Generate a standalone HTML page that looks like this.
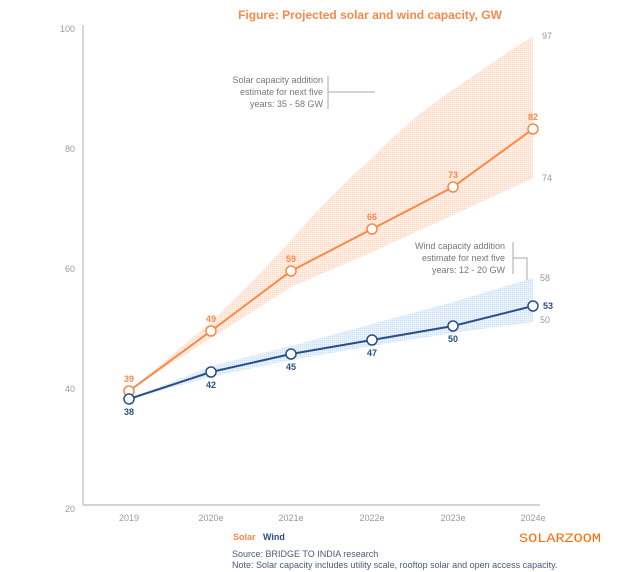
<!DOCTYPE html>
<html><head><meta charset="utf-8"><style>
html,body{margin:0;padding:0;background:#fff;}
svg{display:block;font-family:"Liberation Sans",sans-serif;}
</style></head><body>
<svg width="620" height="572" viewBox="0 0 620 572" xmlns="http://www.w3.org/2000/svg">
<defs>
<pattern id="po" width="2" height="2" patternUnits="userSpaceOnUse"><rect width="2" height="2" fill="#feeee4"/><rect width="1" height="1" fill="#fbd6bf"/></pattern>
<pattern id="pb" width="2" height="2" patternUnits="userSpaceOnUse"><rect width="2" height="2" fill="#e9f2fb"/><rect width="1" height="1" fill="#c8def2"/></pattern>
</defs>
<text x="370" y="19" font-size="12" font-weight="bold" fill="#f58a4b" text-anchor="middle">Figure: Projected solar and wind capacity, GW</text>
<g font-size="9" fill="#9a9a9a" text-anchor="end">
<text x="75" y="32">100</text><text x="75" y="152">80</text><text x="75" y="272">60</text><text x="75" y="392">40</text><text x="75" y="512">20</text>
</g>
<line x1="83" y1="25" x2="83" y2="505" stroke="#bbb" stroke-width="1.2"/>
<line x1="83" y1="505" x2="540" y2="505" stroke="#bbb" stroke-width="1.2"/>
<g font-size="9" fill="#9a9a9a" text-anchor="middle">
<text x="129" y="521">2019</text><text x="211" y="521">2020e</text><text x="291" y="521">2021e</text><text x="372" y="521">2022e</text><text x="453" y="521">2023e</text><text x="533" y="521">2024e</text>
</g>
<path d="M129,391 L211,322 Q260,275 291,240 Q335,190 372,158 Q410,118 453,90 Q495,60 533,36 L533,178 L453,215 L372,252 L291,287 L211,338 Z" fill="url(#po)"/>
<path d="M129,399 L211,366 L291,346 L372,324 L453,302 L533,278 L533,322 L453,333 L372,346 L291,360 L211,377 Z" fill="url(#pb)"/>
<polyline points="129,391 211,331 291,271 372,229 453,187 533,129" fill="none" stroke="#f58a4b" stroke-width="2"/>
<polyline points="129,399 211,372 291,354 372,340 453,326 533,306" fill="none" stroke="#2a4f84" stroke-width="2"/>
<g fill="#fff" stroke="#f58a4b" stroke-width="1.5">
<circle cx="129" cy="391" r="5"/><circle cx="211" cy="331" r="5"/><circle cx="291" cy="271" r="5"/><circle cx="372" cy="229" r="5"/><circle cx="453" cy="187" r="5"/><circle cx="533" cy="129" r="5"/>
</g>
<g fill="#fff" stroke="#2a4f84" stroke-width="1.5">
<circle cx="129" cy="399" r="5"/><circle cx="211" cy="372" r="5"/><circle cx="291" cy="354" r="5"/><circle cx="372" cy="340" r="5"/><circle cx="453" cy="326" r="5"/><circle cx="533" cy="306" r="5"/>
</g>
<g font-size="9" font-weight="bold" fill="#f58a4b" text-anchor="middle">
<text x="129" y="382">39</text><text x="211" y="322">49</text><text x="291" y="262">59</text><text x="372" y="220">66</text><text x="453" y="178">73</text><text x="533" y="120">82</text>
</g>
<g font-size="9" font-weight="bold" fill="#2a4f84" text-anchor="middle">
<text x="129" y="415">38</text><text x="211" y="388">42</text><text x="291" y="370">45</text><text x="372" y="356">47</text><text x="453" y="342">50</text><text x="548" y="309">53</text>
</g>
<g font-size="9" fill="#9a9a9a">
<text x="542" y="39">97</text><text x="542" y="181">74</text><text x="540" y="281">58</text><text x="540" y="323">50</text>
</g>
<g font-size="9" fill="#777" text-anchor="end">
<text x="323" y="83">Solar capacity addition</text><text x="323" y="95">estimate for next five</text><text x="323" y="107">years: 35 - 58 GW</text>
<text x="505" y="249">Wind capacity addition</text><text x="505" y="261">estimate for next five</text><text x="505" y="273">years: 12 - 20 GW</text>
</g>
<g stroke="#aaa" stroke-width="1" fill="none">
<line x1="328" y1="76" x2="328" y2="109"/><line x1="328" y1="92" x2="375" y2="92"/>
<line x1="513" y1="242" x2="513" y2="274"/><polyline points="513,258 527,258 527,280"/>
</g>
<text x="233" y="540" font-size="9" font-weight="bold" fill="#f58a4b">Solar</text>
<text x="263" y="540" font-size="9" font-weight="bold" fill="#2a4f84">Wind</text>
<text x="232" y="557" font-size="9" fill="#4a5a7a">Source: BRIDGE TO INDIA research</text>
<text x="232" y="568" font-size="9" fill="#4a5a7a">Note: Solar capacity includes utility scale, rooftop solar and open access capacity.</text>
<text x="519" y="542" font-size="13" fill="#ff6a00" font-family="Liberation Mono, monospace" textLength="82" lengthAdjust="spacingAndGlyphs">SOLARZOOM</text>
</svg>
</body></html>
